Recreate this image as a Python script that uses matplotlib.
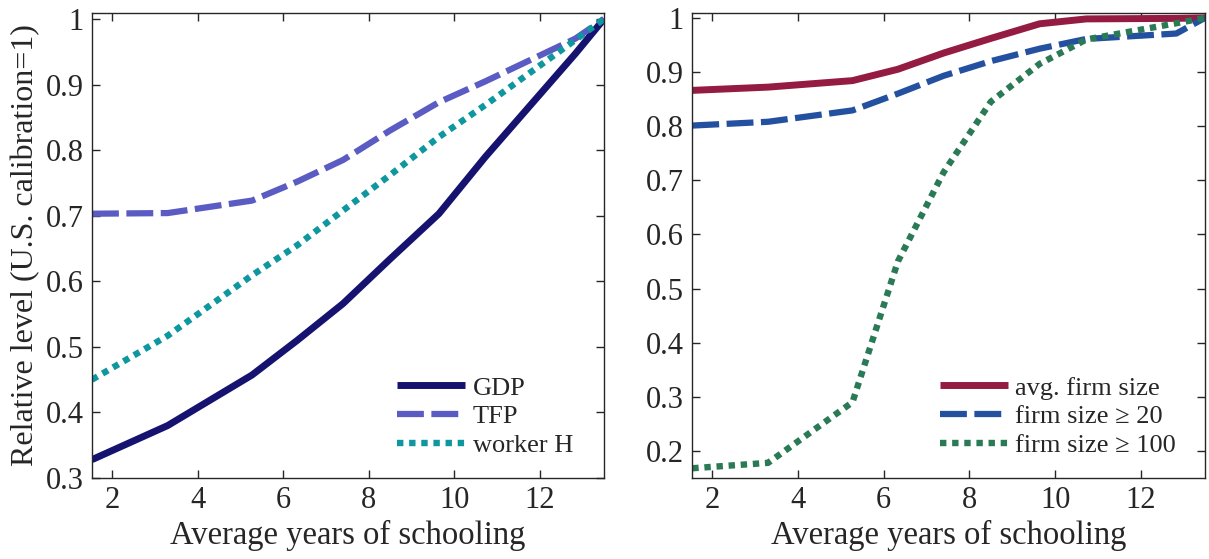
import matplotlib
matplotlib.use("Agg")
import matplotlib.pyplot as plt

# Average years of schooling at each simulated economy
schooling = [1.53, 3.3, 5.27, 6.33, 7.4, 8.5, 9.64, 10.73, 12.83, 13.5]

# Left panel: aggregates relative to the U.S. calibration
gdp = [0.328, 0.380, 0.457, 0.510, 0.566, 0.634, 0.703, 0.790, 0.947, 1.0]
tfp = [0.703, 0.704, 0.723, 0.752, 0.785, 0.830, 0.873, 0.905, 0.970, 1.0]
worker_h = [0.450, 0.517, 0.609, 0.655, 0.708, 0.762, 0.820, 0.869, 0.968, 1.0]

# Right panel: firm-size moments relative to the U.S. calibration
avg_firm = [0.866, 0.872, 0.884, 0.905, 0.935, 0.962, 0.989, 0.998, 0.999, 1.0]
firm_20 = [0.801, 0.808, 0.829, 0.860, 0.893, 0.920, 0.943, 0.961, 0.971, 1.0]
firm_100 = [0.168, 0.178, 0.290, 0.550, 0.715, 0.845, 0.915, 0.960, 0.990, 1.0]

left_labels = ["GDP", "TFP", "worker H"]
right_labels = ["avg. firm size", "firm size \u2265 20", "firm size \u2265 100"]
x_ticks = [2, 4, 6, 8, 10, 12]
left_yticks = [0.3, 0.4, 0.5, 0.6, 0.7, 0.8, 0.9, 1.0]
right_yticks = [0.2, 0.3, 0.4, 0.5, 0.6, 0.7, 0.8, 0.9, 1.0]

plt.rcParams["font.family"] = ["Liberation Serif", "DejaVu Serif"]

ink = "#262626"
fig = plt.figure(figsize=(12.09, 5.59), dpi=100)
ax1 = fig.add_axes([0.0761, 0.1449, 0.4235, 0.8327])
ax2 = fig.add_axes([0.5726, 0.1449, 0.4241, 0.8327])

solid = dict(linestyle="-", linewidth=5.0, solid_joinstyle="round",
             solid_capstyle="butt")
dashed = dict(linestyle=(0, (4.3, 1.2)), linewidth=4.5, dash_capstyle="butt")
dotted = dict(linestyle=(0, (1.0, 0.9)), linewidth=4.6, dash_capstyle="butt")

ax1.plot(schooling, gdp, color="#15136f", label=left_labels[0], **solid)
ax1.plot(schooling, tfp, color="#5b5bc4", label=left_labels[1], **dashed)
ax1.plot(schooling, worker_h, color="#0f979f", label=left_labels[2], **dotted)

ax2.plot(schooling, avg_firm, color="#941b42", label=right_labels[0], **solid)
ax2.plot(schooling, firm_20, color="#2450a0", label=right_labels[1], **dashed)
ax2.plot(schooling, firm_100, color="#2a7a56", label=right_labels[2], **dotted)

for ax, yt, ylo in ((ax1, left_yticks, 0.3), (ax2, right_yticks, 0.15)):
    ax.set_xlim(schooling[0], schooling[-1])
    ax.set_ylim(ylo, 1.0098)
    ax.set_xticks(x_ticks)
    ax.set_yticks(yt)
    ax.set_yticklabels([("%g" % v) for v in yt])
    ax.tick_params(direction="in", length=6, width=1, colors=ink,
                   labelsize=22, top=True, right=True, pad=6)
    for s in ax.spines.values():
        s.set_color(ink)
        s.set_linewidth(1.0)
    ax.set_xlabel("Average years of schooling", fontsize=23.5, color=ink,
                  labelpad=3)

ax1.set_ylabel("Relative level (U.S. calibration=1)", fontsize=23,
               color=ink, labelpad=4)

leg_kw = dict(frameon=False, fontsize=19, handlelength=2.58, handletextpad=0.28,
              labelspacing=0.2, borderaxespad=0.0, borderpad=0.0,
              labelcolor=ink)
ax1.legend(loc="lower left", bbox_to_anchor=(0.596, 0.045), **leg_kw)
ax2.legend(loc="lower left", bbox_to_anchor=(0.483, 0.045), **leg_kw)

fig.savefig("out.png", dpi=100)
